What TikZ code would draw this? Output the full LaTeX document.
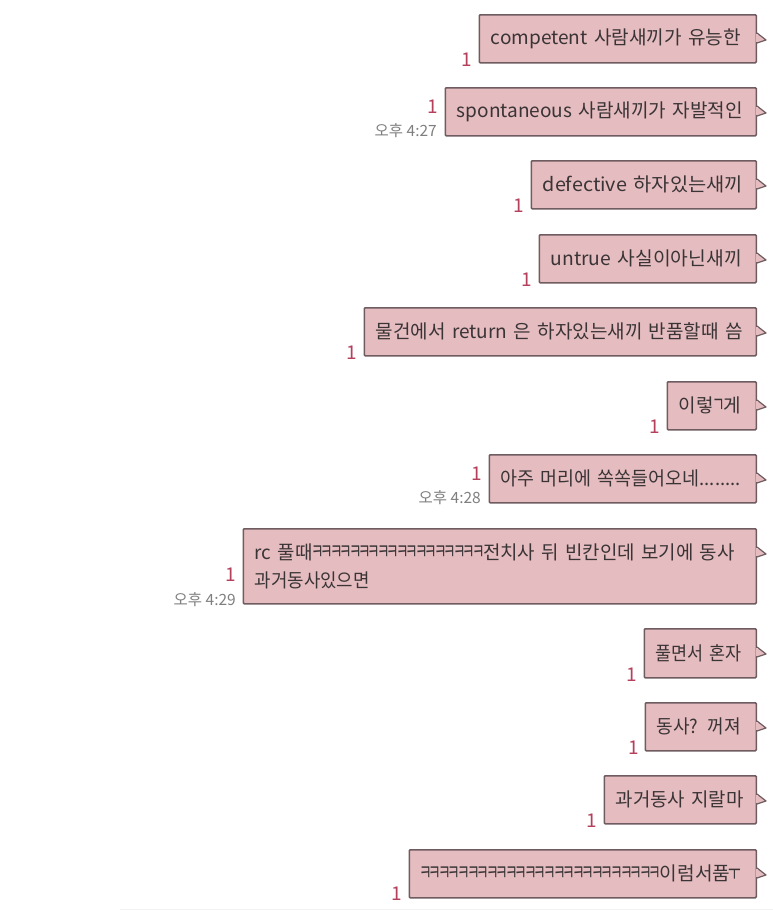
\documentclass[tikz,border=0pt]{standalone}
\usepackage{xcolor}
\usepackage{graphicx}
\usepackage{fontspec}
\setmainfont{Noto Sans CJK KR}
\definecolor{bubblepink}{HTML}{E5BCBF}
\definecolor{bubbleedge}{HTML}{6E5C60}
\definecolor{msgink}{HTML}{3A3436}
\definecolor{readred}{HTML}{B5405C}
\definecolor{timegrey}{HTML}{7F7F7F}
\newcommand{\jamo}[1]{\makebox[9.5pt]{\scalebox{.72}[1.15]{#1}}}
\newcommand{\kkrun}[1]{\foreach \i in {1,...,#1}{\jamo{ㅋ}}}
\newcommand{\msgline}[2]{\resizebox{#1pt}{\height}{#2}}

\begin{document}
\begin{tikzpicture}[
  x=1pt, y=-1pt,
  bubble/.style 2 args={draw=bubbleedge, fill=bubblepink, text=msgink, line width=1.5pt,
    rounded corners=1pt, anchor=north east, inner xsep=11.5pt, inner ysep=0pt, align=left,
    text width=#1pt-23pt, minimum height=#2pt, font=\fontsize{19}{28}\selectfont},
  readmark/.style={text=readred, inner sep=0pt, font=\fontsize{19}{19}\selectfont},
  stamp/.style={text=timegrey, inner sep=0pt, anchor=east, font=\fontsize{15.5}{15.5}\selectfont},
  tail/.style={draw=bubbleedge, line width=1.2pt, line join=round}
]
\useasboundingbox (0,0) rectangle (773,910);
\fill[white] (0,0) rectangle (773,910);
\fill[black!5] (120,908.5) rectangle (773,910);

\node[bubble={277}{48}] (msga) at (757,14) {\msgline{250}{competent 사람새끼가 유능한}};
\node[bubble={311}{48}] (msgb) at (757,87) {\msgline{286}{spontaneous 사람새끼가 자발적인}};
\node[bubble={225}{48}] (msgc) at (757,160) {\msgline{200}{defective 하자있는새끼}};
\node[bubble={217}{48}] (msgd) at (757,234) {\msgline{191}{untrue 사실이아닌새끼}};
\node[bubble={392}{48}] (msge) at (757,307) {\msgline{367}{물건에서 return 은 하자있는새끼 반품할때 씀}};
\node[bubble={89}{48}] (msgf) at (757,381) {\msgline{62}{이렇\jamo{ㄱ}게}};
\node[bubble={267}{48}] (msgg) at (757,454) {\msgline{240}{아주 머리에 쏙쏙들어오네........}};
\node[bubble={513}{75}] (msgh) at (757,528) {\msgline{480}{rc 풀때\kkrun{18}전치사 뒤 빈칸인데 보기에 동사}\\\msgline{115}{과거동사있으면}};
\node[bubble={112}{49}] (msgi) at (757,628) {\msgline{86}{풀면서 혼자}};
\node[bubble={111}{48}] (msgj) at (757,702) {\msgline{84}{동사? 꺼져}};
\node[bubble={152}{48}] (msgk) at (757,775) {\msgline{128}{과거동사 지랄마}};
\node[bubble={347}{48}] (msgl) at (757,849) {\msgline{319}{\kkrun{25}이럼서품\jamo{ㅜ}}};

% tails on the right edge
\foreach \msg in {msga,msgb,msgc,msgd,msge,msgf,msgg,msgh,msgi,msgj,msgk,msgl}{
  \fill[bubblepink] ([yshift=-19pt]\msg.north east) -- ([xshift=9pt,yshift=-26pt]\msg.north east) -- ([yshift=-29pt]\msg.north east) -- cycle;
  \draw[tail] ([yshift=-19pt]\msg.north east) -- ([xshift=9pt,yshift=-26pt]\msg.north east) -- ([yshift=-29pt]\msg.north east);
  \fill[bubblepink] ([xshift=-1pt,yshift=-20pt]\msg.north east) rectangle ([xshift=1pt,yshift=-28pt]\msg.north east);
}

\node[readmark] (reada) at (467,60) {1};
\node[readmark] (readb) at (433,107) {1};
\node[readmark] (readc) at (519,206) {1};
\node[readmark] (readd) at (527,280) {1};
\node[readmark] (reade) at (352,353) {1};
\node[readmark] (readf) at (655,427) {1};
\node[readmark] (readg) at (477,474) {1};
\node[readmark] (readh) at (231,575) {1};
\node[readmark] (readi) at (632,675) {1};
\node[readmark] (readj) at (634,748) {1};
\node[readmark] (readk) at (592,821) {1};
\node[readmark] (readl) at (397,894) {1};

\node[stamp] (timeb) at (437,131) {오후 4:27};
\node[stamp] (timeg) at (481,498) {오후 4:28};
\node[stamp] (timeh) at (236,600) {오후 4:29};
\end{tikzpicture}
\end{document}
